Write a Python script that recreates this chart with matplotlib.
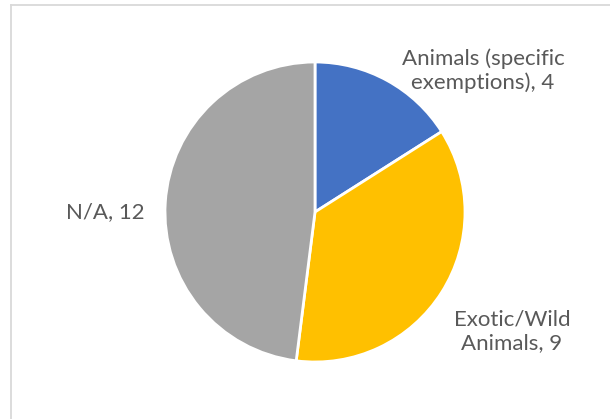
import matplotlib.pyplot as plt
from matplotlib.lines import Line2D

plt.rcParams['font.family'] = ['Lato', 'DejaVu Sans']

categories = ['Animals (specific\nexemptions)', 'Exotic/Wild\nAnimals', 'N/A']
counts = [4, 9, 12]
colors = ['#4472C4', '#FFC000', '#A5A5A5']

fig = plt.figure(figsize=(6.10, 4.19), dpi=100)
ax = fig.add_axes([0, 0, 1, 1])

ax.pie(counts, colors=colors, startangle=90, counterclock=False,
       center=(315, 207), radius=150,
       wedgeprops=dict(edgecolor='white', linewidth=2))
ax.set_xlim(0, 610)
ax.set_ylim(0, 419)
ax.set_aspect('equal')
ax.axis('off')

# chart area frame (top and left edges only fall inside the image)
frame_kw = dict(color='#D9D9D9', linewidth=1.3)
ax.add_line(Line2D([10.5, 610], [413.5, 413.5], **frame_kw))
ax.add_line(Line2D([10.5, 10.5], [0, 413.5], **frame_kw))

label_pos = [(483, 348), (512, 88), (105, 207)]
for name, n, (x, y) in zip(categories, counts, label_pos):
    ax.text(x, y, f'{name}, {n}', ha='center', va='center',
            fontsize=16, color='#595959', linespacing=1.2)

fig.savefig('out.png', dpi=100)
